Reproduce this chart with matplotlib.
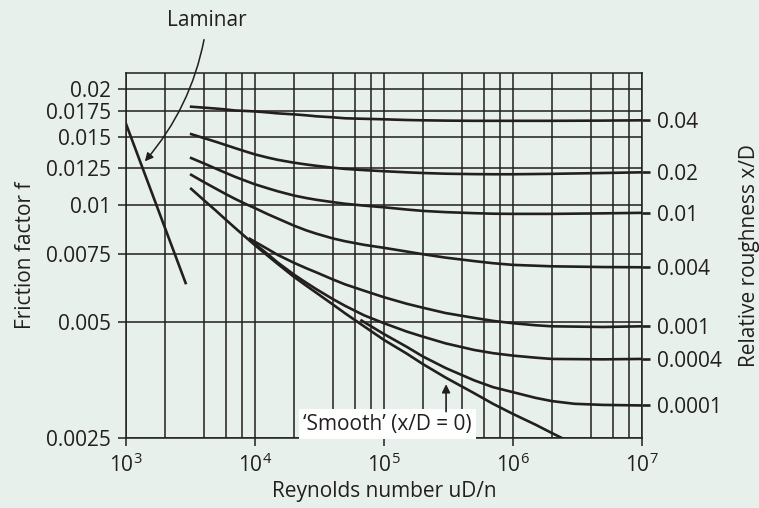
import numpy as np
import matplotlib.pyplot as plt
from matplotlib.ticker import NullLocator, NullFormatter

plt.rcParams['font.family'] = ['Open Sans', 'DejaVu Sans']
plt.rcParams['font.size'] = 15
plt.rcParams['mathtext.fontset'] = 'custom'
plt.rcParams['mathtext.rm'] = 'Open Sans'
plt.rcParams['mathtext.default'] = 'regular'

# Reynolds numbers where the rough curves were read off
re_rough = [3200, 4000, 5000, 6000, 7000, 8500, 1e4, 1.25e4, 1.5e4, 2e4, 2.5e4, 3e4, 4e4, 5e4,
            7e4, 1e5, 1.5e5, 2e5, 3e5, 5e5, 7e5, 1e6, 2e6, 5e6, 1e7]
f_r04 = [0.0180, 0.0179, 0.0178, 0.0177, 0.0176, 0.01755, 0.0175, 0.0174, 0.0173, 0.0172,
         0.0171, 0.0170, 0.0169, 0.0168, 0.01675, 0.0167, 0.01663, 0.0166, 0.01657, 0.01655,
         0.01655, 0.01655, 0.01655, 0.01657, 0.0166]
f_r02 = [0.01529, 0.01494, 0.01460, 0.01431, 0.01407, 0.01378, 0.01355, 0.01330, 0.01312,
         0.01290, 0.01276, 0.01266, 0.01252, 0.01243, 0.01234, 0.01226, 0.01218, 0.01213,
         0.01208, 0.01205, 0.01204, 0.01204, 0.01207, 0.01213, 0.01218]
f_r01 = [0.01326, 0.01285, 0.01244, 0.01212, 0.01186, 0.01157, 0.01134, 0.01108, 0.01088,
         0.01061, 0.01045, 0.01034, 0.01020, 0.01010, 0.00999, 0.00989, 0.00976, 0.00968,
         0.00961, 0.00955, 0.00952, 0.00951, 0.00951, 0.00954, 0.00957]
f_r004 = [0.01200, 0.01150, 0.01104, 0.01068, 0.01040, 0.01008, 0.00984, 0.00950, 0.00925,
          0.00887, 0.00862, 0.00845, 0.00822, 0.00808, 0.00791, 0.00777, 0.00760, 0.00748,
          0.00733, 0.00718, 0.00709, 0.00702, 0.00696, 0.00693, 0.00692]

re_r001 = [9100, 1.2e4, 1.5e4, 2e4, 2.5e4, 3e4, 4e4, 5e4, 7e4, 1e5, 1.5e5, 2e5, 3e5, 5e5,
           7e5, 1e6, 1.5e6, 2e6, 5e6, 1e7]
f_r001 = [0.00820, 0.00778, 0.00745, 0.00711, 0.00688, 0.00671, 0.00644, 0.00625, 0.00602,
          0.00579, 0.00557, 0.00544, 0.00527, 0.00512, 0.00503, 0.00496, 0.00490, 0.00487,
          0.00485, 0.00487]
re_r0004 = [1e4, 1.25e4, 1.5e4, 2e4, 2.5e4, 3e4, 4e4, 5e4, 7e4, 1e5, 1.5e5, 2e5, 3e5, 5e5,
            7e5, 1e6, 1.5e6, 2e6, 5e6, 1e7]
f_r0004 = [0.00795, 0.00749, 0.00712, 0.00663, 0.00631, 0.00607, 0.00573, 0.00550, 0.00520,
           0.00496, 0.00472, 0.00458, 0.00440, 0.00423, 0.00415, 0.00409, 0.00404, 0.00401,
           0.00400, 0.00401]
re_r0001 = [6.7e4, 1e5, 1.5e5, 2e5, 3e5, 5e5, 7e5, 1e6, 1.5e6, 2e6, 3e6, 5e6, 1e7]
f_r0001 = [0.00504, 0.00465, 0.00431, 0.00407, 0.00380, 0.00353, 0.00339, 0.00329, 0.00318,
           0.00312, 0.00307, 0.00305, 0.00304]

re_smooth = [3200, 4000, 5000, 6000, 7000, 8500, 1e4, 1.25e4, 1.5e4, 2e4, 2.5e4, 3e4, 4e4,
             5e4, 7e4, 1e5, 1.5e5, 2e5, 3e5, 5e5, 7e5, 1e6, 1.5e6, 2e6, 2.6e6]
f_smooth = [0.01104, 0.01033, 0.00968, 0.00916, 0.00875, 0.00827, 0.00789, 0.00742, 0.00706,
            0.00654, 0.00620, 0.00594, 0.00555, 0.00526, 0.00487, 0.00449, 0.00414, 0.00389,
            0.00359, 0.00327, 0.00307, 0.00289, 0.00271, 0.00258, 0.00247]

re_lam = [1000, 2900]
f_lam = [0.01626, 0.0063]

rough_labels = ['0.04', '0.02', '0.01', '0.004', '0.001', '0.0004', '0.0001']
y_grid = [0.0025, 0.005, 0.0075, 0.01, 0.0125, 0.015, 0.0175, 0.02]
y_labels = ['0.0025', '0.005', '0.0075', '0.01', '0.0125', '0.015', '0.0175', '0.02']
x_decades = [1e3, 1e4, 1e5, 1e6, 1e7]
x_labels = ['$10^{3}$', '$10^{4}$', '$10^{5}$', '$10^{6}$', '$10^{7}$']

bg = '#e7f0ea'
ink = '#231f20'

fig = plt.figure(figsize=(7.59, 5.08), dpi=100, facecolor=bg)
ax = fig.add_axes([0.166, 0.1372, 0.6798, 0.7191])
ax.set_facecolor(bg)
ax.set_xscale('log')
ax.set_yscale('log')
ax.set_xlim(1e3, 1e7)
ax.set_ylim(0.0025, 0.022)

x_minor = [m * d for d in x_decades[:-1] for m in (2, 4, 6, 8)]
ax.set_xticks(x_decades, labels=x_labels)
ax.set_xticks(x_minor, minor=True)
ax.xaxis.set_minor_formatter(NullFormatter())
ax.set_yticks(y_grid, labels=y_labels)
ax.yaxis.set_minor_locator(NullLocator())
ax.grid(True, which='both', color=ink, lw=1.1)
ax.tick_params(which='major', length=5.8, width=1.1, color=ink, labelcolor=ink, pad=5)
ax.tick_params(axis='x', which='minor', length=0)
for s in ax.spines.values():
    s.set_color(ink)
    s.set_linewidth(1.1)

curves = [(re_rough, f_r04), (re_rough, f_r02), (re_rough, f_r01), (re_rough, f_r004),
          (re_r001, f_r001), (re_r0004, f_r0004), (re_r0001, f_r0001)]
for re, f in curves:
    ax.plot(re, f, color=ink, lw=1.9)
ax.plot(re_smooth, f_smooth, color=ink, lw=1.9)
ax.plot(re_lam, f_lam, color=ink, lw=1.9)

ax.set_xlabel('Reynolds number uD/n', color=ink, labelpad=3)
ax.set_ylabel('Friction factor f', color=ink, labelpad=7)

# right hand scale: roughness labels at the curve ends
ax2 = ax.twinx()
ax2.set_yscale('log')
ax2.set_ylim(ax.get_ylim())
ax2.set_yticks([f[-1] for re, f in curves], labels=rough_labels)
ax2.yaxis.set_minor_locator(NullLocator())
ax2.tick_params(length=5.8, width=1.9, color=ink, labelcolor=ink, pad=5)
for s in ax2.spines.values():
    s.set_visible(False)
ax2.set_ylabel('Relative roughness x/D', color=ink, labelpad=12)

ax.annotate('Laminar', xy=(1400, 0.0130), xytext=(4250, 0.0300), ha='center', va='center',
            color=ink, annotation_clip=False,
            arrowprops=dict(arrowstyle='-|>', color=ink, lw=1.1, mutation_scale=12,
                            connectionstyle='arc3,rad=-0.15', shrinkA=4, shrinkB=0))

ax.text(1.07e5, 0.00272, '\u2018Smooth\u2019 (x/D = 0)', ha='center', va='center', color=ink,
        bbox=dict(facecolor='white', edgecolor='none', pad=3), zorder=3)
ax.annotate('', xy=(3.03e5, 0.00345), xytext=(3.03e5, 0.00293),
            arrowprops=dict(arrowstyle='-|>', color=ink, lw=1.2, mutation_scale=12,
                            shrinkA=0, shrinkB=0), zorder=4)

fig.savefig('out.png', dpi=100, facecolor=bg)
